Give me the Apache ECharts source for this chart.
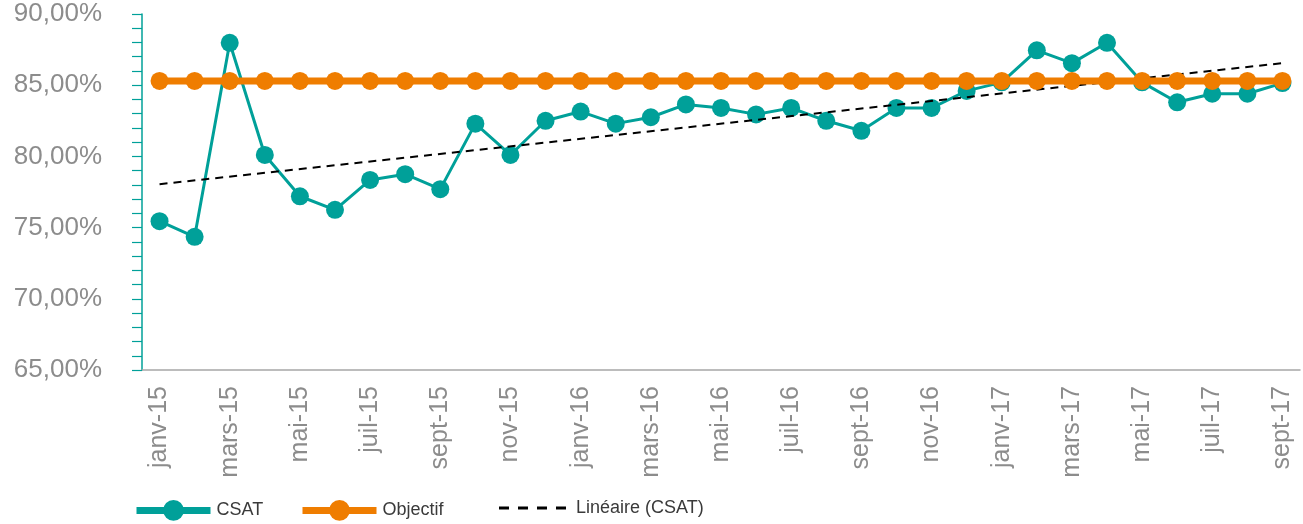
<!DOCTYPE html>
<html>
<head>
<meta charset="utf-8">
<title>CSAT</title>
<script src="https://cdn.jsdelivr.net/npm/echarts@6/dist/echarts.min.js"></script>
<style>
  html, body { margin: 0; padding: 0; background: #fff; }
  #chart { width: 1303px; height: 524px; }
</style>
</head>
<body>
<div id="chart"></div>
<script>
// mois (janv-15 .. sept-17)
var months = [
  "janv-15", "févr-15", "mars-15", "avr-15", "mai-15", "juin-15", "juil-15", "août-15", "sept-15", "oct-15", "nov-15", "déc-15",
  "janv-16", "févr-16", "mars-16", "avr-16", "mai-16", "juin-16", "juil-16", "août-16", "sept-16", "oct-16", "nov-16", "déc-16",
  "janv-17", "févr-17", "mars-17", "avr-17", "mai-17", "juin-17", "juil-17", "août-17", "sept-17"
];
// CSAT en %
var csat = [
  75.45, 74.35, 87.98, 80.1, 77.2, 76.25, 78.35, 78.75, 77.7, 82.3, 80.1, 82.5,
  83.15, 82.3, 82.75, 83.65, 83.4, 82.95, 83.4, 82.5, 81.8, 83.4, 83.4, 84.6,
  85.2, 87.45, 86.55, 87.98, 85.2, 83.8, 84.4, 84.4, 85.15
];
// objectif en %
var objectif = [
  85.3, 85.3, 85.3, 85.3, 85.3, 85.3, 85.3, 85.3, 85.3, 85.3, 85.3, 85.3,
  85.3, 85.3, 85.3, 85.3, 85.3, 85.3, 85.3, 85.3, 85.3, 85.3, 85.3, 85.3,
  85.3, 85.3, 85.3, 85.3, 85.3, 85.3, 85.3, 85.3, 85.3
];
// tendance linéaire (premier / dernier mois)
var trendIdx = [0, 32];
var trendVal = [78.05, 86.55];
var yTicks = [65, 70, 75, 80, 85, 90];

var teal = "#00A099";
var orange = "#EF7D00";
var grey = "#8c8c8c";
var legendFont = { fontSize: 18, color: "#3a3a3a", fontFamily: "Liberation Sans, Arial, sans-serif", padding: [0, 0, 0, 1] };

var myChart = echarts.init(document.getElementById("chart"));

var option = {
  animation: false,
  grid: { left: 142, right: 3, top: 14, bottom: 154, containLabel: false },
  legend: [
    {
      data: ["CSAT"], left: 133, top: 500, padding: 0,
      itemWidth: 74, itemHeight: 26, selectedMode: false,
      lineStyle: { width: 7 },
      textStyle: legendFont
    },
    {
      data: ["Objectif"], left: 299, top: 500, padding: 0,
      itemWidth: 74, itemHeight: 26, selectedMode: false,
      lineStyle: { width: 7 },
      textStyle: legendFont
    },
    {
      // 4 tirets noirs comme dans la légende Excel
      data: [{ name: "Linéaire (CSAT)", icon: "path://M0,0h10v3h-10z M19,0h10v3h-10z M38,0h10v3h-10z M57,0h10v3h-10z" }],
      left: 499, top: 499, padding: 0,
      itemWidth: 67, itemHeight: 3, selectedMode: false,
      itemStyle: { color: "#000" },
      textStyle: { fontSize: 18, color: "#3a3a3a", fontFamily: "Liberation Sans, Arial, sans-serif", padding: [0, 0, 0, 5] }
    }
  ],
  xAxis: {
    type: "category",
    data: months,
    boundaryGap: true,
    axisLine: { lineStyle: { color: "#a6a6a6", width: 1.5 } },
    axisTick: { interval: 1, length: 8, lineStyle: { color: "#a6a6a6", width: 1.5 } },
    axisLabel: {
      interval: 1,
      rotate: 90,
      margin: 16,
      fontSize: 25,
      color: grey,
      fontFamily: "Liberation Sans, Arial, sans-serif"
    }
  },
  yAxis: {
    type: "value",
    min: yTicks[0],
    max: yTicks[yTicks.length - 1],
    interval: 5,
    axisLine: { show: true, lineStyle: { color: teal, width: 1.5 } },
    axisTick: { show: true, length: 10, lineStyle: { color: teal, width: 1.2 } },
    minorTick: { show: true, splitNumber: 5, length: 10, lineStyle: { color: teal, width: 1.2 } },
    splitLine: { show: false },
    axisLabel: {
      margin: 40,
      fontSize: 26,
      color: grey,
      fontFamily: "Liberation Sans, Arial, sans-serif",
      formatter: function (v) {
        return v.toFixed(2).replace(".", ",") + "%";
      }
    }
  },
  series: [
    {
      name: "CSAT",
      type: "line",
      data: csat,
      z: 2,
      symbol: "circle",
      symbolSize: 18,
      itemStyle: { color: teal },
      lineStyle: { color: teal, width: 3 }
    },
    {
      name: "Linéaire (CSAT)",
      type: "line",
      data: trendIdx.map(function (i, k) { return [i, trendVal[k]]; }),
      z: 3,
      symbol: "none",
      itemStyle: { color: "#000" },
      lineStyle: { color: "#000", width: 2, type: [8, 6] }
    },
    {
      name: "Objectif",
      type: "line",
      data: objectif,
      z: 4,
      symbol: "circle",
      symbolSize: 18,
      itemStyle: { color: orange },
      lineStyle: { color: orange, width: 7 }
    }
  ]
};

myChart.setOption(option);
window.onresize = function () {
  myChart.resize();
};
</script>
</body>
</html>
